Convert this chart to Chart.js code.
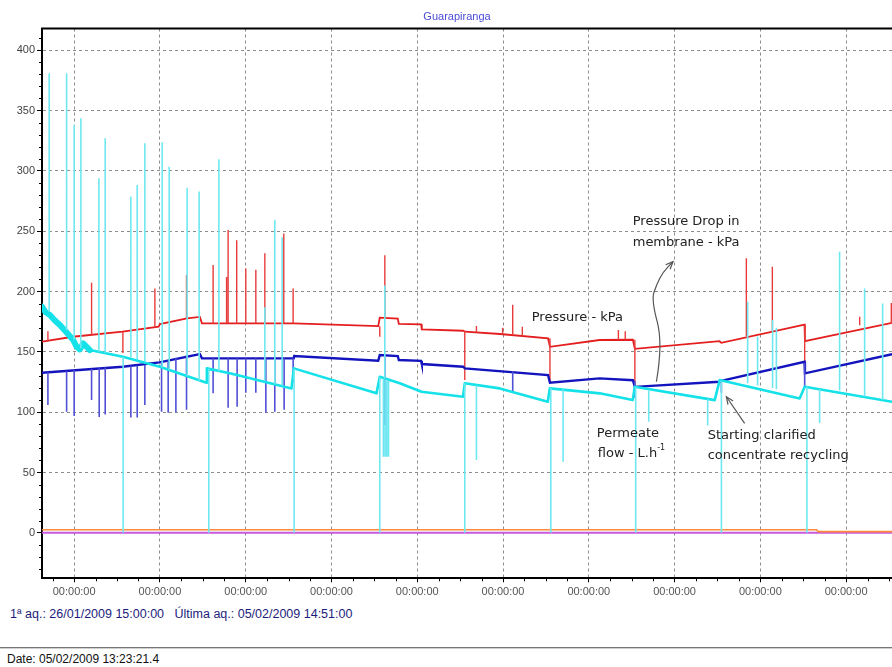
<!DOCTYPE html>
<html>
<head>
<meta charset="utf-8">
<script src="https://cdn.jsdelivr.net/npm/chart.js@4/dist/chart.umd.min.js"></script>
<style>
  html, body { margin: 0; padding: 0; background: #fff; }
  body { width: 892px; height: 667px; position: relative; overflow: hidden; font-family: 'Liberation Sans', Arial, sans-serif; }
  #wrap { position: absolute; left: 0; top: 0; width: 892px; height: 600px; }
  #title { position: absolute; top: 10px; left: 0; width: 914px; text-align: center; font-size: 11px; color: #4b4bd6; }
  #acq { position: absolute; left: 10px; top: 607px; font-size: 12.5px; color: #1c1c7c; white-space: pre; }
  #rule { position: absolute; left: 0; top: 647px; width: 892px; height: 0; border-top: 1px solid #777; border-bottom: 1px solid #d0d0d0; }
  #date { position: absolute; left: 7px; top: 652px; font-size: 12px; color: #111; }
</style>
</head>
<body>
<div id="wrap"><canvas id="chart"></canvas></div>
<div id="title">Guarapiranga</div>
<div id="acq">1ª aq.: 26/01/2009 15:00:00   Última aq.: 05/02/2009 14:51:00</div>
<div id="rule"></div>
<div id="date">Date: 05/02/2009 13:23:21.4</div>
<script>
// x values are days since the first acquisition (26/01/2009 15:00)
const xTickDays = [0.375, 1.375, 2.375, 3.375, 4.375, 5.375, 6.375, 7.375, 8.375, 9.375];
const xTickLabels = ['00:00:00', '00:00:00', '00:00:00', '00:00:00', '00:00:00', '00:00:00', '00:00:00', '00:00:00', '00:00:00', '00:00:00'];
const yTicks = [0, 50, 100, 150, 200, 250, 300, 350, 400];

// Pressure - kPa (red)
const pressureDays = [0, 0.36, 0.94, 1.36, 1.375, 1.69, 1.84, 1.865, 2.935, 3.92, 3.938, 4.148, 4.16, 4.42, 4.428, 4.91, 4.93, 5.34, 5.9, 5.922, 6.5, 6.889, 6.912, 7.9, 7.92, 8.89, 8.895, 9.91];
const pressureKpa = [158.4, 162.5, 166.7, 170.8, 173, 177.8, 179, 173.6, 173.6, 171.3, 178.3, 177.5, 173.2, 172.8, 168.6, 167.5, 166.7, 164.8, 161.2, 154.2, 159.8, 160, 152.5, 158.8, 157.5, 172.6, 158.8, 174];
const pressureSpikeDays = [0.069, 0.578, 0.943, 1.316, 1.685, 1.995, 2.152, 2.17, 2.27, 2.376, 2.493, 2.598, 2.819, 2.928, 3.938, 3.997, 4.929, 5.065, 5.37, 5.488, 5.6, 5.922, 6.72, 6.8, 6.912, 8.212, 8.515, 8.892, 9.533, 9.902];
const pressureSpikeLow = [158.5, 163.5, 149, 170.8, 177.8, 173.6, 173.6, 173.6, 173.6, 173.6, 173.6, 173.6, 173.6, 173.6, 162.5, 178.3, 126.6, 166, 164.5, 164, 163, 125, 160, 160, 121, 163, 167, 132, 172, 174];
const pressureSpikeHigh = [167, 207.3, 166.7, 202.6, 213.7, 222, 212, 251, 242.5, 219, 218, 231.7, 248, 202.6, 171.3, 230, 167.5, 171.4, 170, 189, 170.8, 161.2, 168, 167, 160, 227.5, 220.6, 172.6, 179, 190.5];

// Pressure drop in membrane - kPa (blue)
const dropDays = [0, 0.94, 1.37, 1.84, 1.865, 2.935, 2.94, 3.92, 3.938, 4.148, 4.16, 4.42, 4.428, 4.91, 4.93, 5.9, 5.922, 6.5, 6.889, 6.912, 7.9, 7.92, 8.89, 8.895, 9.91];
const dropKpa = [132.7, 137.7, 141.3, 148.2, 144.6, 144.6, 146.5, 142.6, 147.3, 146.5, 143.2, 142.5, 139.9, 137.7, 136.3, 130.8, 124.4, 128, 126.5, 121, 125.2, 126, 141.8, 132.2, 148];
const dropSpikeDays = [0.069, 0.287, 0.375, 0.578, 0.667, 0.737, 1.036, 1.11, 1.199, 1.394, 1.471, 1.561, 1.685, 1.995, 2.17, 2.275, 2.376, 2.493, 2.61, 2.714, 2.823, 2.928, 3.997, 5.488, 6.912, 7.921, 8.892];
const dropSpikeLow = [105.9, 100.3, 96.8, 110, 96, 98, 95.5, 95.6, 105.9, 100.3, 99.5, 100, 102, 115.6, 103.6, 104.4, 116, 116, 99.5, 100.3, 102, 124, 89.3, 115.8, 112, 116, 121];
const dropSpikeHigh = [133, 134, 135, 136, 136.5, 137, 138.2, 138.5, 139, 141.5, 143, 145, 147, 144.6, 144.6, 144.6, 144.6, 144.6, 144.6, 144.6, 144.6, 144.6, 147, 134, 126, 126, 141];

// Permeate flow - L.h-1 (cyan)
const flowDays = [0, 0.04, 0.092, 0.15, 0.209, 0.3, 0.364, 0.403, 0.44, 0.48, 0.558, 0.943, 1.374, 1.918, 1.922, 2.19, 2.909, 2.936, 3.9, 3.938, 4.171, 4.424, 4.909, 4.929, 5.337, 5.897, 5.92, 6.502, 6.887, 6.911, 7.843, 7.901, 8.833, 8.892, 9.91];
const flowLh = [187.4, 183, 180.5, 176, 172.2, 165, 159.8, 154.2, 152, 157, 151.5, 146, 137.7, 124.4, 136.3, 132.2, 119.7, 136.3, 115.6, 129.4, 123.9, 116.9, 112.8, 123.9, 119.7, 108.6, 119.7, 115.6, 110, 121, 110, 126.6, 111.4, 121, 108.6];
const flowSpikeDays = [0.084, 0.287, 0.375, 0.453, 0.663, 0.737, 1.036, 1.11, 1.199, 1.401, 1.483, 1.692, 1.832, 2.062, 2.598, 2.714, 2.8, 3.997, 8.227, 8.343, 8.518, 8.562, 9.299, 9.591, 9.801,
  0.946, 1.945, 2.939, 3.938, 3.98, 4.0, 4.02, 4.04, 4.929, 5.065, 5.932, 6.075, 6.922, 7.074, 7.761, 7.921, 8.918, 9.066];
const flowSpikeLow = [183, 168, 160, 153, 150, 149, 145, 144, 142, 137, 135, 130, 126, 134, 126, 123, 122, 128, 124, 122, 120, 119, 118, 113, 110,
  0, 0, 0, 0, 63, 63, 63, 63, 0, 60.3, 0, 58.9, 0, 92, 89, 0, 0, 91];
const flowSpikeHigh = [381, 381, 338, 343.6, 293.9, 327, 278.6, 288.3, 322.9, 323.7, 303.5, 286, 282.8, 309.6, 187, 259.3, 245, 205, 191.5, 162.5, 176.4, 170, 233, 202.6, 190,
  146, 136, 136, 129, 128, 127, 126, 126, 124, 122, 120, 119, 121, 118, 111, 126, 121, 119];

// two flat channels near zero
const orangeDays = [0, 9.03, 9.05, 9.91];
const orangeValues = [2.5, 2.5, 1, 1];
const violetDays = [0, 9.91];
const violetValues = [0, 0];

const toPoints = (xs, ys) => xs.map((x, i) => ({ x: x, y: ys[i] }));
// each spike is a vertical segment, separated by a gap
const toSpikes = (xs, lows, highs) => xs.flatMap((x, i) => [{ x: x, y: lows[i] }, { x: x, y: highs[i] }, { x: x, y: null }]);

const lineSet = (data, color, width, order) => ({
  data: data, borderColor: color, borderWidth: width, pointRadius: 0,
  tension: 0, spanGaps: false, fill: false, order: order
});

// annotation arrows / text, in data units
const curveArrow = [[7.163, 125.2], [7.24, 157], [7.105, 193], [7.163, 205.4], [7.24, 216.2], [7.357, 224.7]];
const straightArrow = [[8.192, 90.7], [7.979, 112.8]];

const arrowHead = (ctx, fx, fy, tx, ty) => {
  const ang = Math.atan2(ty - fy, tx - fx);
  const len = 8;
  ctx.beginPath();
  ctx.moveTo(tx - len * Math.cos(ang - 0.4), ty - len * Math.sin(ang - 0.4));
  ctx.lineTo(tx, ty);
  ctx.lineTo(tx - len * Math.cos(ang + 0.4), ty - len * Math.sin(ang + 0.4));
  ctx.stroke();
};

const extras = {
  id: 'extras',
  afterDraw(chart) {
    const { ctx, chartArea: a, scales: { x, y } } = chart;
    ctx.save();
    // top frame line
    ctx.strokeStyle = '#000';
    ctx.lineWidth = 2;
    ctx.beginPath();
    ctx.moveTo(a.left - 1, a.top);
    ctx.lineTo(a.right, a.top);
    ctx.stroke();

    // minor ticks
    ctx.lineWidth = 1;
    ctx.beginPath();
    for (let v = -30; v <= 410; v += 10) {
      if (v % 50 === 0) continue;
      const py = Math.round(y.getPixelForValue(v)) + 0.5;
      ctx.moveTo(a.left - 3, py);
      ctx.lineTo(a.left, py);
    }
    for (let k = 0; k < 40; k++) {
      if (k % 4 === 1) continue;
      const px = Math.round(x.getPixelForValue(0.125 + 0.25 * k)) + 0.5;
      if (px > a.right) break;
      ctx.moveTo(px, a.bottom);
      ctx.lineTo(px, a.bottom + 3);
    }
    ctx.stroke();

    // notes
    const P = (d, v) => [x.getPixelForValue(d), y.getPixelForValue(v)];
    ctx.fillStyle = '#222';
    ctx.font = '13px "DejaVu Sans"';
    ctx.textBaseline = 'middle';
    ctx.textAlign = 'left';
    const notes = [
      ['Pressure Drop in', 6.887, 257.6],
      ['membrane - kPa', 6.887, 240.2],
      ['Pressure - kPa', 5.71, 178],
      ['Permeate', 6.468, 82.2],
      ['Starting clarified', 7.761, 80.5],
      ['concentrate recycling', 7.761, 63.9]
    ];
    notes.forEach(([t, d, v]) => { const [px, py] = P(d, v); ctx.fillText(t, px, py); });
    const [fx, fy] = P(6.48, 65.6);
    ctx.fillText('flow - L.h', fx, fy);
    const w = ctx.measureText('flow - L.h').width;
    ctx.font = '8px "DejaVu Sans"';
    ctx.fillText('-1', fx + w, fy - 6);

    // arrows
    ctx.strokeStyle = '#555';
    ctx.lineWidth = 1.2;
    const pts = curveArrow.map(([d, v]) => P(d, v));
    ctx.beginPath();
    ctx.moveTo(pts[0][0], pts[0][1]);
    for (let i = 1; i < pts.length - 1; i++) {
      const mx = (pts[i][0] + pts[i + 1][0]) / 2;
      const my = (pts[i][1] + pts[i + 1][1]) / 2;
      ctx.quadraticCurveTo(pts[i][0], pts[i][1], mx, my);
    }
    const last = pts[pts.length - 1];
    ctx.lineTo(last[0], last[1]);
    ctx.stroke();
    const prev = pts[pts.length - 2];
    arrowHead(ctx, prev[0], prev[1], last[0], last[1]);

    const s0 = P(straightArrow[0][0], straightArrow[0][1]);
    const s1 = P(straightArrow[1][0], straightArrow[1][1]);
    ctx.beginPath();
    ctx.moveTo(s0[0], s0[1]);
    ctx.lineTo(s1[0], s1[1]);
    ctx.stroke();
    arrowHead(ctx, s0[0], s0[1], s1[0], s1[1]);
    ctx.restore();
  }
};

const flowLine = lineSet(toPoints(flowDays, flowLh), 'rgb(20,225,232)', 2.6, 2);
// the first hours of permeate flow are a wide noisy band
flowLine.segment = { borderWidth: (c) => (c.p0.parsed.x < 0.5 ? 6 : 2.6) };
flowLine.borderJoinStyle = 'round';
flowLine.borderCapStyle = 'round';

new Chart(document.getElementById('chart'), {
  type: 'line',
  data: {
    datasets: [
      lineSet(toSpikes(flowSpikeDays, flowSpikeLow, flowSpikeHigh), 'rgb(110,232,240)', 1.6, 1),
      flowLine,
      lineSet(toSpikes(dropSpikeDays, dropSpikeLow, dropSpikeHigh), 'rgb(80,80,215)', 1.6, 3),
      lineSet(toPoints(dropDays, dropKpa), 'rgb(20,20,190)', 2.4, 4),
      lineSet(toSpikes(pressureSpikeDays, pressureSpikeLow, pressureSpikeHigh), 'rgb(232,60,60)', 1.4, 5),
      lineSet(toPoints(pressureDays, pressureKpa), 'rgb(228,30,30)', 1.8, 6),
      lineSet(toPoints(orangeDays, orangeValues), 'rgb(250,140,60)', 1.6, 7),
      lineSet(toPoints(violetDays, violetValues), 'rgb(200,90,220)', 2, 8)
    ]
  },
  options: {
    animation: false,
    responsive: true,
    maintainAspectRatio: false,
    layout: { padding: { top: 28.5, right: 0, left: 0, bottom: 0 } },
    plugins: { legend: { display: false }, title: { display: false }, tooltip: { enabled: false } },
    scales: {
      x: {
        type: 'linear', min: 0, max: 9.91, offset: false,
        afterFit: (s) => { s.height = 21.7; },
        afterBuildTicks: (s) => { s.ticks = xTickDays.map(v => ({ value: v })); },
        ticks: {
          autoSkip: false, maxRotation: 0, padding: 3, color: '#555',
          font: { family: 'Liberation Sans', size: 11 },
          callback: (v, i) => xTickLabels[i]
        },
        grid: { color: '#8c8c8c', lineWidth: 1, tickLength: 4, tickColor: '#000', tickBorderDash: [] },
        border: { display: true, color: '#000', width: 2, dash: [3, 3] }
      },
      y: {
        type: 'linear', min: -37.7, max: 418,
        afterFit: (s) => { s.width = 42; },
        afterBuildTicks: (s) => { s.ticks = yTicks.map(v => ({ value: v })); },
        ticks: {
          padding: 2, color: '#444',
          font: { family: 'Liberation Sans', size: 11 },
          callback: (v) => String(v)
        },
        grid: { color: '#8c8c8c', lineWidth: 1, tickLength: 5, tickColor: '#000', tickBorderDash: [] },
        border: { display: true, color: '#000', width: 2, dash: [3, 3] }
      }
    }
  },
  plugins: [extras]
});
</script>
</body>
</html>
